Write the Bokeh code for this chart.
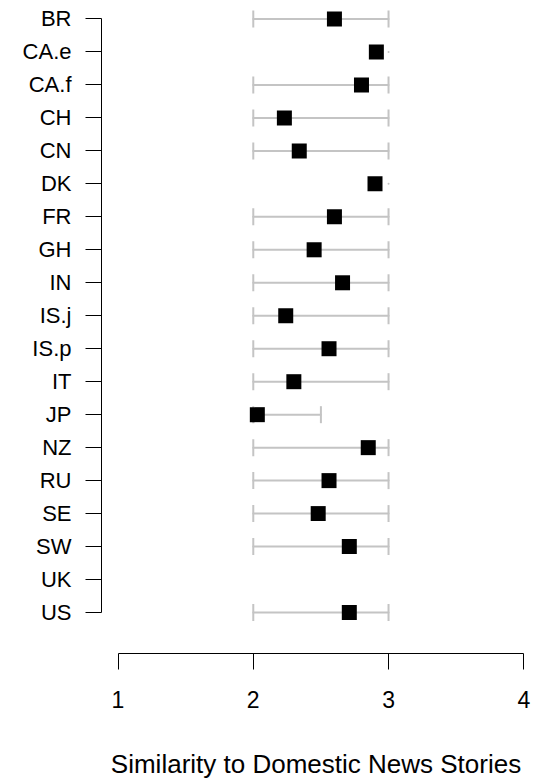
import numpy as np
from bokeh.plotting import figure
from bokeh.models import ColumnDataSource, FixedTicker, Range1d
from bokeh.embed import file_html
from bokeh.resources import INLINE

# ---- data ----
countries = ["BR", "CA.e", "CA.f", "CH", "CN", "DK", "FR", "GH", "IN", "IS.j",
             "IS.p", "IT", "JP", "NZ", "RU", "SE", "SW", "UK", "US"]
means = [2.60, 2.91, 2.80, 2.23, 2.34, 2.90, 2.60, 2.45, 2.66, 2.24,
         2.56, 2.30, 2.03, 2.85, 2.56, 2.48, 2.71, np.nan, 2.71]
lower = [2.0, 3.0, 2.0, 2.0, 2.0, 3.0, 2.0, 2.0, 2.0, 2.0,
         2.0, 2.0, 2.0, 2.0, 2.0, 2.0, 2.0, np.nan, 2.0]
upper = [3.0, 3.0, 3.0, 3.0, 3.0, 3.0, 3.0, 3.0, 3.0, 3.0,
         3.0, 3.0, 2.5, 3.0, 3.0, 3.0, 3.0, np.nan, 3.0]
x_ticks = [1, 2, 3, 4]
x_label = "Similarity to Domestic News Stories"

n = len(countries)
ypos = [n - i for i in range(n)]  # BR on top

FONT = "Liberation Sans"
GREY = "#c4c4c4"

p = figure(width=533, height=782, output_backend="svg", toolbar_location=None,
           x_range=Range1d(0.878, 4.0495), y_range=Range1d(-0.243, n + 0.318),
           min_border_left=101, min_border_right=3, min_border_top=8,
           min_border_bottom=129)
p.title = None
p.outline_line_color = None
p.xgrid.visible = False
p.ygrid.visible = False

# error bars
valid = [i for i in range(n) if not np.isnan(means[i])]
bars = ColumnDataSource(dict(
    y=[ypos[i] for i in valid],
    lo=[lower[i] for i in valid],
    hi=[upper[i] for i in valid],
    m=[means[i] for i in valid],
))
p.segment(x0="lo", y0="y", x1="hi", y1="y", source=bars,
          line_color=GREY, line_width=2, line_cap="round")

capped = [i for i in valid if upper[i] > lower[i]]
caps = ColumnDataSource(dict(
    x=[lower[i] for i in capped] + [upper[i] for i in capped],
    y=[ypos[i] for i in capped] * 2,
))
p.scatter(x="x", y="y", source=caps, marker="dash", size=17, angle=np.pi / 2,
          line_color=GREY, line_width=2)

p.scatter(x="m", y="y", source=bars, marker="square", size=15,
          fill_color="black", line_color=None)

# x axis
xa = p.xaxis[0]
xa.ticker = FixedTicker(ticks=x_ticks)
xa.bounds = (x_ticks[0], x_ticks[-1])
xa.minor_tick_line_color = None
xa.major_tick_in = 0
xa.major_tick_out = 16
xa.major_tick_line_color = "black"
xa.axis_line_color = "black"
xa.major_label_text_font = FONT
xa.major_label_text_font_size = "23px"
xa.major_label_text_color = "black"
xa.major_label_standoff = 21
xa.axis_label = x_label
xa.axis_label_text_font = FONT
xa.axis_label_text_font_size = "26px"
xa.axis_label_text_font_style = "normal"
xa.axis_label_text_color = "black"
xa.axis_label_standoff = 38

# y axis
ya = p.yaxis[0]
ya.ticker = FixedTicker(ticks=ypos)
ya.major_label_overrides = {ypos[i]: countries[i] for i in range(n)}
ya.bounds = (min(ypos), max(ypos))
ya.minor_tick_line_color = None
ya.major_tick_in = 0
ya.major_tick_out = 16
ya.major_tick_line_color = "black"
ya.axis_line_color = "black"
ya.major_label_text_font = FONT
ya.major_label_text_font_size = "22px"
ya.major_label_text_color = "black"
ya.major_label_standoff = 14

open("out.html", "w").write(file_html(p, INLINE))
